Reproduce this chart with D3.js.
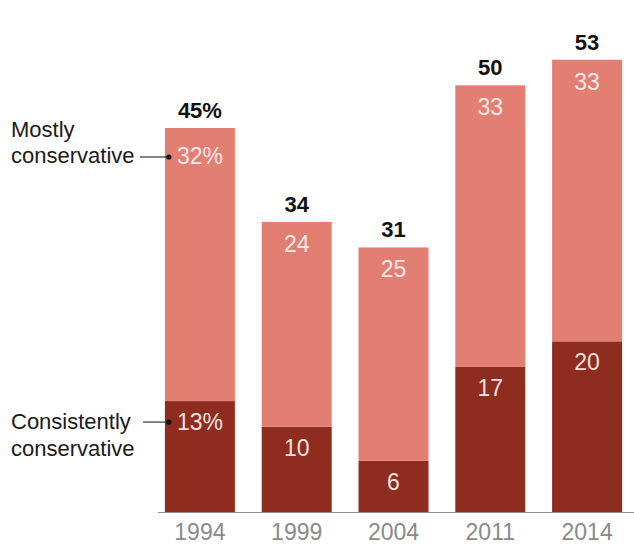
<!DOCTYPE html>
<html>
<head>
<meta charset="utf-8">
<script src="https://cdn.jsdelivr.net/npm/d3@7"></script>
<style>
  html, body { margin: 0; padding: 0; background: #fff; }
  svg { display: block; font-family: "Liberation Sans", Arial, sans-serif; }
</style>
</head>
<body>
<svg id="chart" width="634" height="546"></svg>
<script>
const years = ["1994", "1999", "2004", "2011", "2014"];
const consistently = [13, 10, 6, 17, 20];
const mostly = [32, 24, 25, 33, 33];
const totals = [45, 34, 31, 50, 53];
const totalLabels = ["45%", "34", "31", "50", "53"];
const mostlyLabels = ["32%", "24", "25", "33", "33"];
const consistentlyLabels = ["13%", "10", "6", "17", "20"];
const seriesNames = [["Mostly", "conservative"], ["Consistently", "conservative"]];

const colLight = "#e37e72";
const colDark = "#8e2c1f";

const svg = d3.select("#chart");
const baseY = 512;

const x = d3.scaleBand().domain(years).range([151.5, 635.5])
  .paddingInner(0.277).paddingOuter(0.1385);
const y = d3.scaleLinear().domain([0, 45]).range([baseY, 128]);

const data = years.map((yr, i) => ({
  year: yr, c: consistently[i], m: mostly[i], t: totals[i],
  tl: totalLabels[i], ml: mostlyLabels[i], cl: consistentlyLabels[i], i
}));

// dark segments
svg.append("g").selectAll("rect").data(data).join("rect")
  .attr("x", d => x(d.year)).attr("width", x.bandwidth())
  .attr("y", d => y(d.c)).attr("height", d => y(0) - y(d.c))
  .attr("fill", colDark);

// light segments
svg.append("g").selectAll("rect").data(data).join("rect")
  .attr("x", d => x(d.year)).attr("width", x.bandwidth())
  .attr("y", d => y(d.c + d.m)).attr("height", d => y(d.c) - y(d.c + d.m))
  .attr("fill", colLight);

// axis
const axis = d3.axisBottom(x).tickSize(0).tickPadding(0);
const ax = svg.append("g").attr("transform", `translate(0,${baseY})`).call(axis);
ax.select(".domain").remove();
ax.selectAll("text").attr("y", 28).attr("dy", 0)
  .attr("font-size", 23).attr("fill", "#8a8a8a")
  .attr("font-family", "'Liberation Sans', Arial, sans-serif");
svg.append("line").attr("x1", 158).attr("x2", 634)
  .attr("y1", baseY + 0.5).attr("y2", baseY + 0.5)
  .attr("stroke", "#8f8f8f").attr("stroke-width", 1.2);

// totals
svg.append("g").selectAll("text").data(data).join("text")
  .attr("x", d => x(d.year) + x.bandwidth() / 2)
  .attr("y", d => y(d.t) - 10)
  .attr("text-anchor", "middle").attr("font-size", 22).attr("font-weight", "bold")
  .attr("fill", "#111").text(d => d.tl);

// mostly labels
svg.append("g").selectAll("text").data(data).join("text")
  .attr("x", d => x(d.year) + x.bandwidth() / 2)
  .attr("y", d => y(d.c + d.m) + (d.i === 0 ? 36 : 30))
  .attr("text-anchor", "middle").attr("font-size", 23)
  .attr("fill", "#fdebe8").text(d => d.ml);

// consistently labels
svg.append("g").selectAll("text").data(data).join("text")
  .attr("x", d => x(d.year) + x.bandwidth() / 2)
  .attr("y", d => y(d.c) + 29)
  .attr("text-anchor", "middle").attr("font-size", 23)
  .attr("fill", "#f6e2de").text(d => d.cl);

// annotations
const first = data[0];
const bx = x(first.year);
const annY = [y(first.c + first.m) + 29, y(first.c) + 21];
const annText = [[y(first.c + first.m) + 9, y(first.c + first.m) + 35], [y(first.c) + 28, y(first.c) + 55]];
const annLineStart = [140, 143];
seriesNames.forEach((lines, k) => {
  const t = svg.append("text").attr("x", 11).attr("font-size", 22).attr("fill", "#1a1a1a");
  lines.forEach((ln, j) => t.append("tspan").attr("x", 11).attr("y", annText[k][j]).text(ln));
  svg.append("line").attr("x1", annLineStart[k]).attr("x2", bx + 4)
    .attr("y1", annY[k]).attr("y2", annY[k]).attr("stroke", "#333").attr("stroke-width", 1.2);
  svg.append("circle").attr("cx", bx + 4).attr("cy", annY[k]).attr("r", 2.6).attr("fill", "#111");
});
</script>
</body>
</html>
